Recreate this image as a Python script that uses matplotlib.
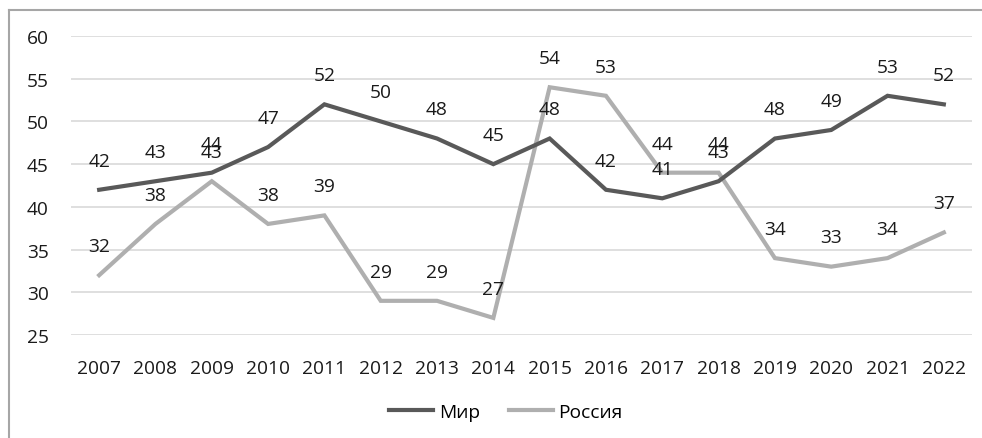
import matplotlib
matplotlib.use("Agg")
import matplotlib.pyplot as plt
from matplotlib.lines import Line2D

years = ["2007", "2008", "2009", "2010", "2011", "2012", "2013", "2014",
         "2015", "2016", "2017", "2018", "2019", "2020", "2021", "2022"]
mir = [42, 43, 44, 47, 52, 50, 48, 45, 48, 42, 41, 43, 48, 49, 53, 52]
russia = [32, 38, 43, 38, 39, 29, 29, 27, 54, 53, 44, 44, 34, 33, 34, 37]
series_names = ["Мир", "Россия"]

plt.rcParams['font.family'] = ['Open Sans', 'DejaVu Sans']
FS = 13.8

fig = plt.figure(figsize=(9.82, 4.39), dpi=100)
ax = fig.add_axes([71/982, 1-336/439, (972-71)/982, (336-37)/439])

x = list(range(len(years)))
c_mir = "#595959"
c_rus = "#afafaf"
ax.plot(x, russia, color=c_rus, lw=3.0, solid_joinstyle='miter', zorder=3)
ax.plot(x, mir, color=c_mir, lw=3.0, solid_joinstyle='miter', zorder=4)

for xi, v in zip(x, mir):
    ax.annotate(str(v), (xi, v), xytext=(0, 21), textcoords='offset points',
                ha='center', va='center', fontsize=FS, color='#1a1a1a', zorder=6)
for xi, v in zip(x, russia):
    ax.annotate(str(v), (xi, v), xytext=(0, 21), textcoords='offset points',
                ha='center', va='center', fontsize=FS, color='#1a1a1a', zorder=6)

ax.set_xlim(-0.5, len(years)-0.5)
ax.set_ylim(25, 60)
ax.set_yticks(range(25, 61, 5))
ax.set_xticks(x)
ax.set_xticklabels(years)
ax.tick_params(axis='both', length=0, labelsize=FS, colors='#1a1a1a')
ax.tick_params(axis='y', pad=16)
ax.tick_params(axis='x', pad=17)
ax.grid(axis='y', color='#d9d9d9', lw=1.2)
ax.set_axisbelow(True)
for s in ax.spines.values():
    s.set_visible(False)

handles = [Line2D([], [], color=c_mir, lw=3.0), Line2D([], [], color=c_rus, lw=3.0)]
fig.legend(handles, series_names, loc='center', bbox_to_anchor=(0.515, 1-413/439),
           ncol=2, frameon=False, fontsize=FS, handlelength=2.3, handletextpad=0.3,
           columnspacing=1.5)

# outer border (left and top visible)
fig.add_artist(Line2D([9/982, 9/982], [0, 1-11/439], transform=fig.transFigure,
                      color='#a6a6a6', lw=1.5))
fig.add_artist(Line2D([9/982, 1], [1-11/439, 1-11/439], transform=fig.transFigure,
                      color='#a6a6a6', lw=1.5))

fig.savefig("out.png", dpi=100)
